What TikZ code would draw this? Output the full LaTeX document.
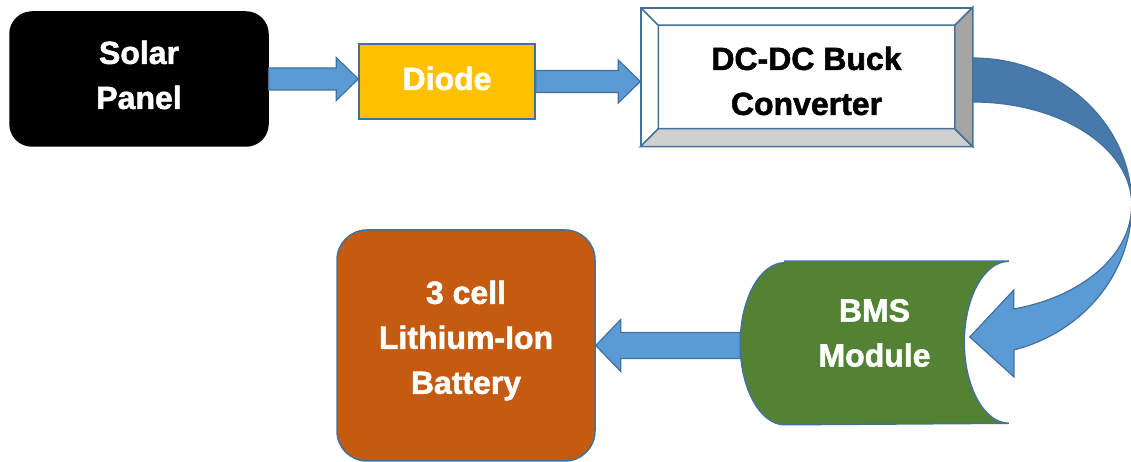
\documentclass[tikz,border=0pt]{standalone}
\usepackage{fontspec}
\setmainfont{Liberation Sans}[BoldFeatures={FakeBold=1.6}]
\definecolor{boxLine}{RGB}{65,113,156}
\definecolor{arrowBlue}{RGB}{91,155,213}
\definecolor{arrowDark}{RGB}{71,122,170}
\definecolor{diodeGold}{RGB}{255,192,0}
\definecolor{bmsGreen}{RGB}{84,130,53}
\definecolor{battOrange}{RGB}{197,90,17}
\definecolor{bevelGray}{RGB}{165,165,165}
\definecolor{bevelLight}{RGB}{208,208,208}
\usetikzlibrary{calc}

\begin{document}
\begin{tikzpicture}[x=1pt, y=1pt,
  blk/.style={draw=boxLine, line width=1.5pt, inner sep=0pt},
  lbl/.style={align=center, inner sep=0pt,
              font=\fontsize{32}{45}\selectfont\bfseries, text=white},
  blockarrow/.style={fill=arrowBlue, draw=boxLine, line width=1.2pt}
]
  \useasboundingbox (0,0) rectangle (1131,462);

  \node[blk, fill=black, draw=black, rounded corners=22pt,
        minimum width=258pt, minimum height=134pt] (solar) at (139,383) {};
  \node[blk, fill=diodeGold, minimum width=176pt, minimum height=75pt] (diode) at (447,380.5) {};
  \node[blk, fill=white, minimum width=331pt, minimum height=138pt] (conv) at (806.5,385) {};
  \node[blk, draw=none, minimum width=267pt, minimum height=162pt] (bms) at (874.5,119) {};
  \node[blk, fill=battOrange, rounded corners=30pt,
        minimum width=258pt, minimum height=231pt] (batt) at (466,116.5) {};

  % bevel of the converter box
  \coordinate (ci1) at ([shift={(18pt,18pt)}]conv.south west);
  \coordinate (ci2) at ([shift={(-18pt,-18pt)}]conv.north east);
  \filldraw[fill=bevelLight, draw=boxLine, line width=1.5pt]
    (conv.south west) -- (conv.south east) -- (ci2 |- ci1) -- (ci1) -- cycle;
  \filldraw[fill=bevelGray, draw=boxLine, line width=1.5pt]
    (conv.south east) -- (conv.north east) -- (ci2) -- (ci2 |- ci1) -- cycle;
  \draw[boxLine, line width=1.5pt] (conv.north west) -- (ci1 |- ci2) -- (ci2)
    (ci1 |- ci2) -- (ci1);

  % BMS drum shape
  \filldraw[fill=bmsGreen, draw=boxLine, line width=1.5pt]
    ([xshift=44.5pt]bms.north west) -- (bms.north east)
    arc[start angle=90, end angle=270, x radius=44.5, y radius=81]
    -- ([xshift=44.5pt]bms.south west)
    arc[start angle=270, end angle=90, x radius=44.5, y radius=81] -- cycle;

  % labels
  \node[lbl] (solartxt) at ([yshift=4pt]solar.center) {Solar\\Panel};
  \node[lbl] (diodetxt) at ([yshift=3pt]diode.center) {Diode};
  \node[lbl, text=black] (convtxt) at ([yshift=-4pt]conv.center) {DC-DC Buck\\Converter};
  \node[lbl] (bmstxt) at ([yshift=10pt]bms.center) {BMS\\Module};
  \node[lbl] (batttxt) at ([yshift=5pt]batt.center) {3 cell\\Lithium-Ion\\Battery};

  % straight block arrows
  \filldraw[blockarrow] let \p1=(solar.east), \p2=(diode.west) in
    (\x1,\y1+11pt) -- (\x2-22pt,\y1+11pt) -- (\x2-22pt,\y1+21.5pt) -- (\x2,\y1)
    -- (\x2-22pt,\y1-21.5pt) -- (\x2-22pt,\y1-11pt) -- (\x1,\y1-11pt) -- cycle;
  \filldraw[blockarrow] let \p1=(diode.east), \p2=(conv.west) in
    (\x1,\y1+11pt) -- (\x2-22pt,\y1+11pt) -- (\x2-22pt,\y1+21.5pt) -- (\x2,\y1)
    -- (\x2-22pt,\y1-21.5pt) -- (\x2-22pt,\y1-11pt) -- (\x1,\y1-11pt) -- cycle;
  \filldraw[blockarrow] let \p1=(bms.west), \p2=(batt.east) in
    (\x1,\y2+13pt) -- (\x2+25pt,\y2+13pt) -- (\x2+25pt,\y2+26pt) -- (\x2,\y2)
    -- (\x2+25pt,\y2-26pt) -- (\x2+25pt,\y2-13pt) -- (\x1,\y2-13pt) -- cycle;

  % curved arrow from converter down to BMS
  \coordinate (cmid) at ([shift={(159pt,-128pt)}]conv.east);
  \coordinate (tip) at ([shift={(-39pt,6pt)}]bms.east);
  \filldraw[blockarrow, fill=arrowDark]
    ([yshift=19pt]conv.east) arc[start angle=90, end angle=0, x radius=159, y radius=147]
    arc[start angle=0, end angle=90, x radius=159, y radius=103] -- cycle;
  \filldraw[blockarrow]
    (cmid) arc[start angle=0, end angle=-75, x radius=159, y radius=150]
    -- ++(0,-27) -- (tip) -- ++(44,47) -- ++(0,-19)
    arc[start angle=-75, end angle=0, x radius=159, y radius=107] -- cycle;
\end{tikzpicture}
\end{document}
